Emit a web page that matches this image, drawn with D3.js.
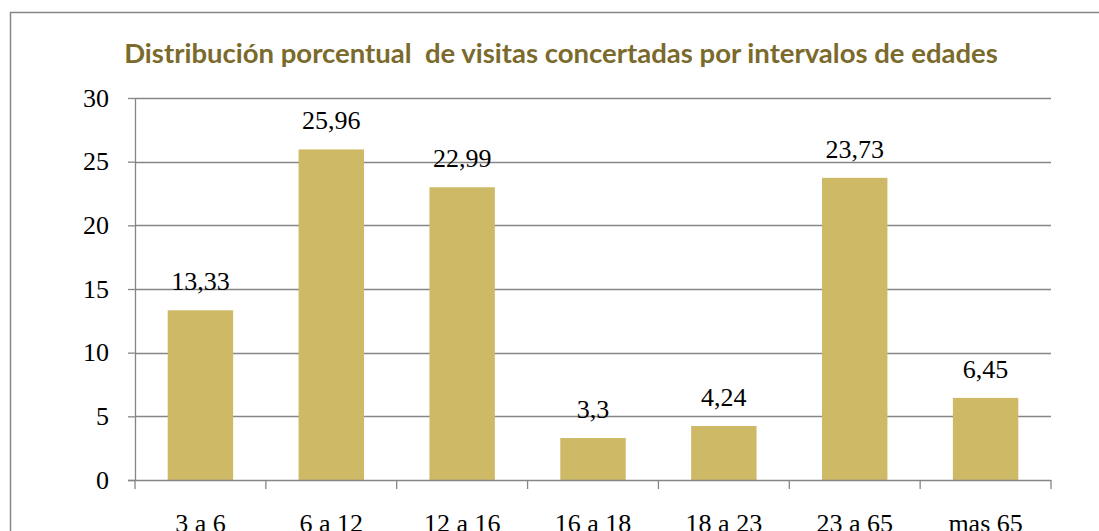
<!DOCTYPE html>
<html>
<head>
<meta charset="utf-8">
<script src="https://cdn.jsdelivr.net/npm/d3@7"></script>
<style>
  html, body { margin: 0; padding: 0; background: #fff; overflow: hidden; }
  svg { display: block; }
</style>
</head>
<body>
<svg id="chart" width="1099" height="531"></svg>
<script>
// data
const categories = ['3 a 6', '6 a 12', '12 a 16', '16 a 18', '18 a 23', '23 a 65', 'mas 65'];
const values = [13.33, 25.96, 22.99, 3.3, 4.24, 23.73, 6.45];
const valueLabels = ['13,33', '25,96', '22,99', '3,3', '4,24', '23,73', '6,45'];
const yTicks = [0, 5, 10, 15, 20, 25, 30];
const title = 'Distribución porcentual  de visitas concertadas por intervalos de edades';

const width = 1099;
const height = 531;
const plot = { left: 135, right: 1051, top: 98, bottom: 480 };
const gridColor = '#868686';
const barColor = '#CEB967';
const serif = '"Liberation Serif", "DejaVu Serif", serif';

const svg = d3.select('#chart');

// outer chart border (right and bottom edges fall outside the window)
svg.append('rect')
  .attr('x', 10.5)
  .attr('y', 12.5)
  .attr('width', 1200)
  .attr('height', 600)
  .attr('fill', 'none')
  .attr('stroke', gridColor)
  .attr('stroke-width', 1.5);

const x = d3.scaleBand()
  .domain(categories)
  .range([plot.left, plot.right])
  .paddingInner(0.5)
  .paddingOuter(0.25);

const y = d3.scaleLinear()
  .domain([0, 30])
  .range([plot.bottom, plot.top]);

// title, squeezed to the width it has in the picture
const titleText = svg.append('text')
  .attr('x', 561)
  .attr('y', 63)
  .attr('text-anchor', 'middle')
  .style('white-space', 'pre')
  .attr('font-family', 'Lato, "Open Sans", sans-serif')
  .attr('font-weight', 'bold')
  .attr('font-size', 24)
  .attr('fill', '#7A6A2C')
  .text(title);
const tw = titleText.node().getComputedTextLength();
titleText.attr('font-size', 24 * 874 / tw);

// horizontal gridlines
svg.append('g')
  .selectAll('line')
  .data(yTicks.filter(d => d > 0))
  .enter().append('line')
  .attr('x1', plot.left)
  .attr('x2', plot.right)
  .attr('y1', d => Math.round(y(d)) + 0.5)
  .attr('y2', d => Math.round(y(d)) + 0.5)
  .attr('stroke', gridColor)
  .attr('stroke-width', 1.3);

// bars
svg.append('g')
  .selectAll('rect')
  .data(values)
  .enter().append('rect')
  .attr('x', (d, i) => x(categories[i]))
  .attr('width', x.bandwidth())
  .attr('y', d => y(d))
  .attr('height', d => y(0) - y(d))
  .attr('fill', barColor);

// value labels
svg.append('g')
  .selectAll('text')
  .data(values)
  .enter().append('text')
  .attr('x', (d, i) => x(categories[i]) + x.bandwidth() / 2)
  .attr('y', d => y(d) - 20)
  .attr('text-anchor', 'middle')
  .attr('font-family', serif)
  .attr('font-size', 26)
  .attr('fill', '#000')
  .text((d, i) => valueLabels[i]);

// y axis
const yAxis = svg.append('g')
  .attr('transform', `translate(${plot.left},0)`)
  .call(d3.axisLeft(y).tickValues(yTicks).tickSize(7).tickPadding(19).tickSizeOuter(0));
yAxis.select('.domain').attr('stroke', gridColor).attr('stroke-width', 1.3);
yAxis.selectAll('.tick line').attr('stroke', gridColor).attr('stroke-width', 1.3);
yAxis.selectAll('.tick text')
  .attr('font-family', serif)
  .attr('font-size', 26)
  .attr('fill', '#000');

// x axis
const xAxis = svg.append('g')
  .attr('transform', `translate(0,${plot.bottom})`)
  .call(d3.axisBottom(x).tickSize(0).tickPadding(34).tickSizeOuter(0));
xAxis.select('.domain')
  .attr('d', `M${plot.left - 7},0.5H${plot.right}`)
  .attr('stroke', gridColor).attr('stroke-width', 1.3);
xAxis.selectAll('.tick text')
  .attr('font-family', serif)
  .attr('font-size', 26)
  .attr('fill', '#000');

// category boundary ticks
const edges = categories.map(c => x(c) - (x.step() - x.bandwidth()) / 2).concat([plot.right]);
xAxis.append('g')
  .selectAll('line')
  .data(edges)
  .enter().append('line')
  .attr('x1', d => d)
  .attr('x2', d => d)
  .attr('y1', 0)
  .attr('y2', 9)
  .attr('stroke', gridColor)
  .attr('stroke-width', 1.3);
</script>
</body>
</html>
